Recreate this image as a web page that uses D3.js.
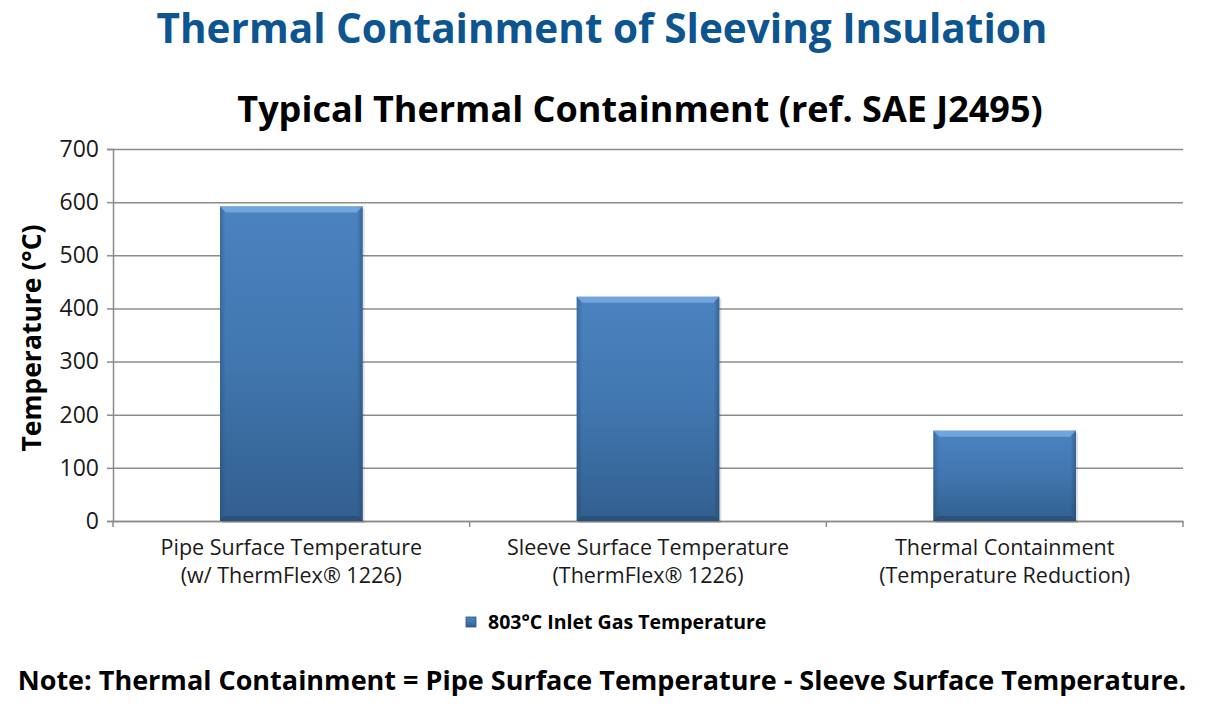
<!DOCTYPE html>
<html>
<head>
<meta charset="utf-8">
<script src="https://cdn.jsdelivr.net/npm/d3@7"></script>
<style>
  body { margin: 0; background: #fff; }
  svg { display: block; font-family: "Open Sans", "Noto Sans", sans-serif; }
</style>
</head>
<body>
<svg id="chart" width="1206" height="711"></svg>
<script>
// chart values
var categories = [
    ["Pipe Surface Temperature", "(w/ ThermFlex\u00AE 1226)"],
    ["Sleeve Surface Temperature", "(ThermFlex\u00AE 1226)"],
    ["Thermal Containment", "(Temperature Reduction)"]
];
var temperatures = [592, 422, 170];
var yTicks = [0, 100, 200, 300, 400, 500, 600, 700];
var seriesName = "803\u00B0C Inlet Gas Temperature";

var svg = d3.select("#chart"),
    margin = {top: 149, right: 23, bottom: 190, left: 113},
    width = +svg.attr("width") - margin.left - margin.right,
    height = +svg.attr("height") - margin.top - margin.bottom;

var defs = svg.append("defs");
var grad = defs.append("linearGradient").attr("id", "barFill")
    .attr("x1", 0).attr("y1", 0).attr("x2", 0).attr("y2", 1);
grad.append("stop").attr("offset", "0%").attr("stop-color", "#4a83c0");
grad.append("stop").attr("offset", "45%").attr("stop-color", "#4278b1");
grad.append("stop").attr("offset", "100%").attr("stop-color", "#325f8f");

var side = defs.append("linearGradient").attr("id", "barSide")
    .attr("x1", 0).attr("y1", 0).attr("x2", 1).attr("y2", 0);
side.append("stop").attr("offset", "0%").attr("stop-color", "#1e3f66").attr("stop-opacity", 0.35);
side.append("stop").attr("offset", "4%").attr("stop-color", "#1e3f66").attr("stop-opacity", 0);
side.append("stop").attr("offset", "96%").attr("stop-color", "#1e3f66").attr("stop-opacity", 0);
side.append("stop").attr("offset", "100%").attr("stop-color", "#1e3f66").attr("stop-opacity", 0.45);

// titles
svg.append("text")
    .attr("x", 602).attr("y", 43)
    .attr("text-anchor", "middle")
    .attr("fill", "#0c5590")
    .attr("font-weight", "bold")
    .attr("font-size", 40.5)
    .text("Thermal Containment of Sleeving Insulation");

svg.append("text")
    .attr("x", 640).attr("y", 122)
    .attr("text-anchor", "middle")
    .attr("fill", "#000")
    .attr("font-weight", "bold")
    .attr("font-size", 36)
    .text("Typical Thermal Containment (ref. SAE J2495)");

var g = svg.append("g").attr("transform", "translate(" + margin.left + "," + margin.top + ")");

var x = d3.scaleBand()
    .domain(d3.range(categories.length))
    .range([0, width])
    .padding(0);

var y = d3.scaleLinear()
    .domain([0, 700])
    .range([height, 0]);

// gridlines
g.append("g")
    .call(d3.axisLeft(y).tickValues(yTicks).tickSize(-width).tickFormat(""))
    .call(function (s) { s.select(".domain").remove(); })
    .selectAll("line")
    .attr("stroke", "#8c8c8c")
    .attr("stroke-width", 1.5);

// y axis
var yAxis = g.append("g")
    .call(d3.axisLeft(y).tickValues(yTicks).tickSize(6).tickPadding(8));
yAxis.select(".domain").attr("stroke", "#8c8c8c").attr("stroke-width", 1.5);
yAxis.selectAll("line").attr("stroke", "#8c8c8c").attr("stroke-width", 1.5);
yAxis.selectAll("text")
    .attr("font-size", 23)
    .attr("fill", "#1a1a1a")
    .attr("font-family", "'Open Sans', sans-serif");

// x axis
var xAxis = g.append("g")
    .attr("transform", "translate(0," + height + ")")
    .call(d3.axisBottom(x).tickSize(0).tickFormat(""));
xAxis.select(".domain").attr("stroke", "#8c8c8c").attr("stroke-width", 1.5);

// boundary ticks between categories
g.append("g").selectAll("line")
    .data(d3.range(categories.length + 1))
    .join("line")
    .attr("x1", function (i) { return i * x.step(); })
    .attr("x2", function (i) { return i * x.step(); })
    .attr("y1", height)
    .attr("y2", height + 6)
    .attr("stroke", "#8c8c8c")
    .attr("stroke-width", 1.5);

// category labels
var labels = g.append("g").selectAll("text")
    .data(categories)
    .join("text")
    .attr("x", function (d, i) { return x(i) + x.bandwidth() / 2; })
    .attr("y", height + 34)
    .attr("text-anchor", "middle")
    .attr("font-size", 21.5)
    .attr("fill", "#1a1a1a");
labels.selectAll("tspan")
    .data(function (d) { return d; })
    .join("tspan")
    .attr("x", function () { return d3.select(this.parentNode).attr("x"); })
    .attr("dy", function (d, i) { return i === 0 ? 0 : 28; })
    .text(function (d) { return d; });

// bars
var barW = x.bandwidth() * 0.4;
var bars = g.append("g").selectAll("g")
    .data(temperatures)
    .join("g")
    .attr("transform", function (d, i) {
        return "translate(" + (x(i) + (x.bandwidth() - barW) / 2) + ",0)";
    });

bars.append("rect")
    .attr("x", 2).attr("y", function (d) { return y(d) + 2; })
    .attr("width", barW).attr("height", function (d) { return height - y(d); })
    .attr("fill", "#000").attr("opacity", 0.12);

bars.append("rect")
    .attr("y", function (d) { return y(d); })
    .attr("width", barW)
    .attr("height", function (d) { return height - y(d); })
    .attr("fill", "url(#barFill)");

bars.append("rect")
    .attr("y", function (d) { return y(d); })
    .attr("width", barW)
    .attr("height", function (d) { return height - y(d); })
    .attr("fill", "url(#barSide)");

// top bevel
bars.append("path")
    .attr("d", function (d) {
        var t = y(d), b = 6;
        return "M0," + t + "H" + barW + "L" + (barW - b) + "," + (t + b) + "H" + b + "Z";
    })
    .attr("fill", "#7fb0e4")
    .attr("opacity", 0.75);

// bottom bevel
bars.append("path")
    .attr("d", function (d) {
        var b = 5;
        return "M0," + height + "H" + barW + "L" + (barW - b) + "," + (height - b) + "H" + b + "Z";
    })
    .attr("fill", "#24476e")
    .attr("opacity", 0.6);

// y axis title
svg.append("text")
    .attr("transform", "translate(41,338) rotate(-90)")
    .attr("text-anchor", "middle")
    .attr("font-weight", "bold")
    .attr("font-size", 26.5)
    .attr("fill", "#000")
    .text("Temperature (\u00B0C)");

// legend
var legend = svg.append("g").attr("transform", "translate(466,617)");
legend.append("rect")
    .attr("width", 10).attr("height", 10)
    .attr("fill", "url(#barFill)")
    .attr("stroke", "#2c5580").attr("stroke-width", 0.8);
legend.append("text")
    .attr("x", 22).attr("y", 12)
    .attr("font-weight", "bold")
    .attr("font-size", 19.5)
    .attr("fill", "#000")
    .text(seriesName);

// note
svg.append("text")
    .attr("x", 602).attr("y", 690)
    .attr("text-anchor", "middle")
    .attr("font-weight", "bold")
    .attr("font-size", 27)
    .attr("fill", "#000")
    .text("Note: Thermal Containment = Pipe Surface Temperature - Sleeve Surface Temperature.");
</script>
</body>
</html>
